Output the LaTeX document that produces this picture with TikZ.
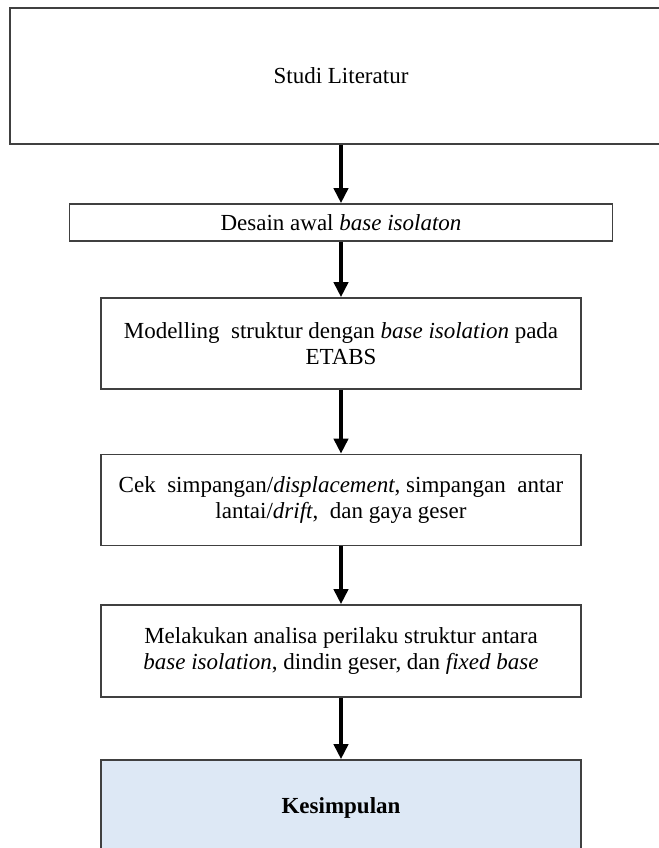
\documentclass[tikz,border=0pt]{standalone}
\usepackage{fontspec}
\setmainfont{Liberation Serif}
\usepackage{xcolor}
\usetikzlibrary{arrows.meta,positioning}
\definecolor{kesimpulanfill}{RGB}{221,232,245}

\begin{document}
\begin{tikzpicture}[x=0.5pt,y=-0.5pt,
                every node/.style={font=\fontsize{11.5}{13.2}\selectfont},
                box/.style={draw=black!75, line width=0.8pt, align=center, inner sep=0pt},
                flow/.style={-{Triangle[width=7pt,length=7.5pt]}, line width=2pt}]
                \useasboundingbox (0,0) rectangle (659,848);
                \node[box, minimum width=331pt, minimum height=68pt] (studi) at (341,76) {Studi Literatur};
                \node[box, minimum width=271.5pt, minimum height=18.5pt] (desain) at (341,222.5) {Desain awal \textit{base isolaton}};
                \node[box, minimum width=240pt, minimum height=45.5pt] (model) at (341,343.5) {Modelling\ \ struktur dengan \textit{base isolation} pada\\ETABS};
                \node[box, minimum width=240pt, minimum height=45.5pt] (cek) at (341,500) {Cek\ \ simpangan/\textit{displacement}, simpangan\ \ antar\\lantai/\textit{drift},\ \ dan gaya geser};
                \node[box, minimum width=240pt, minimum height=46pt] (analisa) at (341,651) {Melakukan analisa perilaku struktur antara\\\textit{base isolation}, dindin geser, dan \textit{fixed base}};
                \node[box, fill=kesimpulanfill, minimum width=240pt, minimum height=48pt, font=\fontsize{11.5}{13.2}\selectfont\bfseries] (simpul) at (341,808) {Kesimpulan};
                \draw[flow] (studi.south) -- (desain.north);
                \draw[flow] (desain.south) -- (model.north);
                \draw[flow] (model.south) -- (cek.north);
                \draw[flow] (cek.south) -- (analisa.north);
                \draw[flow] (analisa.south) -- (simpul.north);
            \end{tikzpicture}
\end{document}
